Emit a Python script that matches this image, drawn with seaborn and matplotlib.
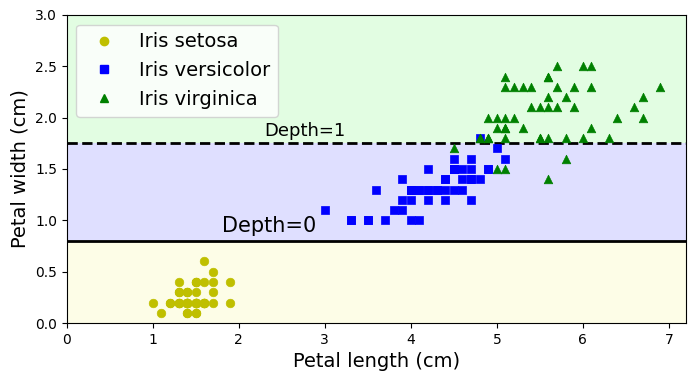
import numpy as np
import pandas as pd
import matplotlib
matplotlib.use("Agg")
import matplotlib.pyplot as plt
from matplotlib.lines import Line2D
import seaborn as sns

setosa_len = [1.4,1.4,1.3,1.5,1.4,1.7,1.4,1.5,1.4,1.5,1.5,1.6,1.4,1.1,1.2,1.5,1.3,1.4,1.7,1.5,1.7,1.5,1.0,1.7,1.9,1.6,1.6,1.5,1.4,1.6,1.6,1.5,1.5,1.4,1.5,1.2,1.3,1.4,1.3,1.5,1.3,1.3,1.3,1.6,1.9,1.4,1.6,1.4,1.5,1.4]
setosa_wid = [0.2,0.2,0.2,0.2,0.2,0.4,0.3,0.2,0.2,0.1,0.2,0.2,0.1,0.1,0.2,0.4,0.4,0.3,0.3,0.3,0.2,0.4,0.2,0.5,0.2,0.2,0.4,0.2,0.2,0.2,0.2,0.4,0.1,0.2,0.2,0.2,0.2,0.1,0.2,0.2,0.3,0.3,0.2,0.6,0.4,0.3,0.2,0.2,0.2,0.2]
versi_len = [4.7,4.5,4.9,4.0,4.6,4.5,4.7,3.3,4.6,3.9,3.5,4.2,4.0,4.7,3.6,4.4,4.5,4.1,4.5,3.9,4.8,4.0,4.9,4.7,4.3,4.4,4.8,5.0,4.5,3.5,3.8,3.7,3.9,5.1,4.5,4.5,4.7,4.4,4.1,4.0,4.4,4.6,4.0,3.3,4.2,4.2,4.2,4.3,3.0,4.1]
versi_wid = [1.4,1.5,1.5,1.3,1.5,1.3,1.6,1.0,1.3,1.4,1.0,1.5,1.0,1.4,1.3,1.4,1.5,1.0,1.5,1.1,1.8,1.3,1.5,1.2,1.3,1.4,1.4,1.7,1.5,1.0,1.1,1.0,1.2,1.6,1.5,1.6,1.5,1.3,1.3,1.3,1.2,1.4,1.2,1.0,1.3,1.2,1.3,1.3,1.1,1.3]
virg_len = [6.0,5.1,5.9,5.6,5.8,6.6,4.5,6.3,5.8,6.1,5.1,5.3,5.5,5.0,5.1,5.3,5.5,6.7,6.9,5.0,5.7,4.9,6.7,4.9,5.7,6.0,4.8,4.9,5.6,5.8,6.1,6.4,5.6,5.1,5.6,6.1,5.6,5.5,4.8,5.4,5.6,5.1,5.1,5.9,5.7,5.2,5.0,5.2,5.4,5.1]
virg_wid = [2.5,1.9,2.1,1.8,2.2,2.1,1.7,1.8,1.8,2.5,2.0,1.9,2.1,2.0,2.4,2.3,1.8,2.2,2.3,1.5,2.3,2.0,2.0,1.8,2.1,1.8,1.8,1.8,2.1,1.6,1.9,2.0,2.2,1.5,1.4,2.3,2.4,1.8,1.8,2.1,2.4,2.3,1.9,2.3,2.5,2.3,1.9,2.0,2.3,1.8]

species = ["Iris setosa", "Iris versicolor", "Iris virginica"]
thresholds = [0.8, 1.75]
depth_labels = ["Depth=0", "Depth=1"]

df = pd.DataFrame({
    "len": setosa_len + versi_len + virg_len,
    "wid": setosa_wid + versi_wid + virg_wid,
    "species": [species[0]] * len(setosa_len) + [species[1]] * len(versi_len) + [species[2]] * len(virg_len),
})

fig = plt.figure(figsize=(6.96, 3.81), dpi=100)
ax = fig.add_axes([0.0958, 0.152, 0.890, 0.809])

bg = ["#fafab0", "#9898ff", "#a0faa0"]
bounds = [0.0] + thresholds + [3.0]
for i in range(3):
    ax.axhspan(bounds[i], bounds[i + 1], color=bg[i], alpha=0.3, lw=0, zorder=0)

styles = {species[0]: ("y", "o"), species[1]: ("b", "s"), species[2]: ("g", "^")}
handles = []
for sp in species:
    c, m = styles[sp]
    sub = df[df.species == sp]
    sns.scatterplot(data=sub, x="len", y="wid", color=c, marker=m, s=38,
                    edgecolor=c, linewidth=0.5, ax=ax, zorder=3, legend=False)
    handles.append(Line2D([], [], color=c, marker=m, ls="none", markersize=6, label=sp))

ax.axhline(thresholds[0], color="k", lw=2, zorder=2)
ax.axhline(thresholds[1], color="k", lw=2, ls="--", zorder=2)
ax.text(1.8, thresholds[0] + 0.09, depth_labels[0], fontsize=15)
ax.text(2.3, thresholds[1] + 0.07, depth_labels[1], fontsize=13)

ax.set_xlim(0, 7.2)
ax.set_ylim(0, 3)
ax.set_xlabel("Petal length (cm)", fontsize=14)
ax.set_ylabel("Petal width (cm)", fontsize=14)
ax.legend(handles=handles, loc="upper left", fontsize=14)

fig.savefig("out.png", dpi=100)
